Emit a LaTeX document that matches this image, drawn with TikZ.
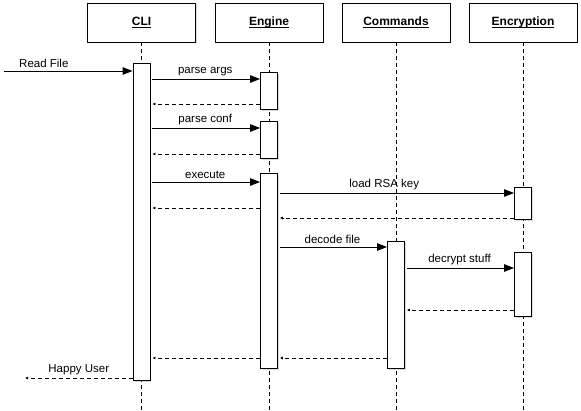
\documentclass[tikz,border=0pt]{standalone}
\usepackage{fontspec}
\setmainfont{Liberation Sans}
\usepackage{tikz}
\usetikzlibrary{arrows.meta, positioning, shadows}

% thick underline for the participant names
\newcommand{\headul}[1]{\setbox0\hbox{#1}\rlap{#1}\rule[-2.5pt]{\wd0}{1pt}}

\begin{document}
\begin{tikzpicture}[x=1pt, y=-1pt,
    actor/.style={rectangle, draw, line width=0.9pt, fill=white,
                  minimum width=108pt, minimum height=39pt,
                  font=\fontsize{12}{14}\selectfont\bfseries,
                  drop shadow={opacity=0.3, shadow xshift=1.2pt, shadow yshift=-1.2pt}},
    bar/.style={rectangle, draw, line width=0.9pt, fill=white, anchor=north,
                minimum width=17pt, inner sep=0pt,
                drop shadow={opacity=0.3, shadow xshift=1.2pt, shadow yshift=-1.2pt}},
    life/.style={line width=0.6pt, dash pattern=on 4pt off 3pt},
    msg/.style={line width=0.9pt, -{Triangle[length=10pt, width=7.5pt]}, shorten <=2pt},
    ret/.style={line width=0.9pt, dash pattern=on 4pt off 3pt,
                -{Latex[length=3pt, width=3pt]}, shorten >=2pt},
    lbl/.style={above=1pt, inner sep=2pt, font=\fontsize{11.5}{13}\selectfont},
]

% Frame
\useasboundingbox (0,0) rectangle (581,410);
\coordinate (bot) at (0,410);

% Participants
\node[actor] (cli) at (141.5,22.5) {\headul{CLI}};
\node[actor] (eng) at (269,22.5) {\headul{Engine}};
\node[actor] (cmd) at (396,22.5) {\headul{Commands}};
\node[actor] (enc) at (523,22.5) {\headul{Encryption}};

% Lifelines
\foreach \p in {cli,eng,cmd,enc} {
    \draw[life] (\p.south) -- (\p |- bot);
}

% Activation bars
\node[bar, minimum height=317pt] (clibar) at (141.5,63) {};
\node[bar, minimum height=37pt] (engA) at (269,72) {};
\node[bar, minimum height=37pt] (engB) at (269,121) {};
\node[bar, minimum height=195pt] (engC) at (269,173) {};
\node[bar, minimum height=32pt] (encA) at (523,187) {};
\node[bar, minimum height=127pt] (cmdA) at (396,241) {};
\node[bar, minimum height=64pt] (encB) at (523,252) {};

% Incoming call
\coordinate (in) at (4,71);
\draw[msg, shorten <=0pt] (in) -- (clibar.west |- in) node[lbl, pos=0.31] {Read File};

% Calls
\foreach \y/\a/\b/\q/\txt in {79/clibar/engA/0.5/parse args,
                              128/clibar/engB/0.5/parse conf,
                              182/clibar/engC/0.5/execute,
                              193/engC/encA/0.45/load RSA key,
                              247/engC/cmdA/0.5/decode file,
                              268/cmdA/encB/0.5/decrypt stuff} {
    \coordinate (m) at (0,\y);
    \draw[msg] (\a.east |- m) -- (\b.west |- m) node[lbl, pos=\q] {\txt};
}

% Returns
\foreach \y/\a/\b in {104/engA/clibar, 154/engB/clibar, 208/engC/clibar,
                      218/encA/engC, 310/encB/cmdA, 358/cmdA/engC, 358/engC/clibar} {
    \coordinate (r) at (0,\y);
    \draw[ret] (\a.west |- r) -- (\b.east |- r);
}

% Outgoing result
\coordinate (out) at (25,378);
\draw[ret, shorten >=0pt] (clibar.west |- out) -- (out) node[lbl, midway] {Happy User};

\end{tikzpicture}
\end{document}
